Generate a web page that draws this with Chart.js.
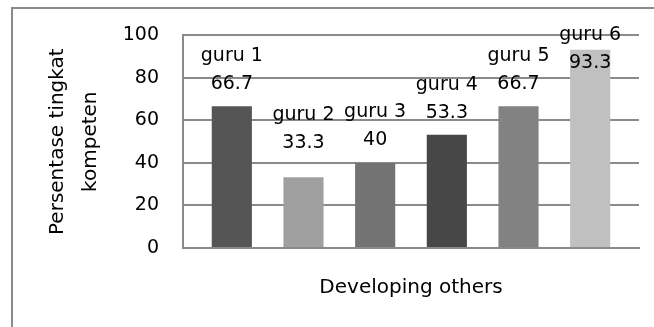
<!DOCTYPE html>
<html>
<head>
<meta charset="utf-8">
<script src="https://cdn.jsdelivr.net/npm/chart.js@4/dist/chart.umd.min.js"></script>
<style>
  html, body { margin: 0; padding: 0; background: #fff; overflow: hidden; }
</style>
</head>
<body>
<canvas id="myChart" width="654" height="327"></canvas>
<script>
// kategori dan nilai per guru
const kategori = ['Developing others'];
const namaGuru = ['guru 1', 'guru 2', 'guru 3', 'guru 4', 'guru 5', 'guru 6'];
const nilai = [66.7, 33.3, 40, 53.3, 66.7, 93.3];
const warnaBatang = ['#555555', '#a0a0a0', '#737373', '#474747', '#828282', '#c0c0c0'];
const tickY = [0, 20, 40, 60, 80, 100];

const fontName = '"DejaVu Sans", sans-serif';

// garis bingkai luar (kiri dan atas)
const bingkai = {
    id: 'bingkai',
    beforeDraw(chart) {
        const ctx = chart.ctx;
        ctx.save();
        ctx.strokeStyle = '#8a8a8a';
        ctx.lineWidth = 2;
        ctx.beginPath();
        ctx.moveTo(12, chart.height + 2);
        ctx.lineTo(12, 8);
        ctx.lineTo(chart.width + 2, 8);
        ctx.stroke();
        ctx.restore();
    }
};

// label "guru n" + nilai di atas tiap batang
const labelBatang = {
    id: 'labelBatang',
    afterDatasetsDraw(chart, args, opts) {
        const ctx = chart.ctx;
        ctx.save();
        ctx.font = '19px ' + fontName;
        ctx.fillStyle = '#000';
        ctx.textAlign = 'center';
        ctx.textBaseline = 'alphabetic';
        chart.data.datasets.forEach((ds, i) => {
            const bar = chart.getDatasetMeta(i).data[0];
            const yNilai = bar.y - opts.naik[i];
            ctx.fillText(String(ds.data[0]), bar.x, yNilai);
            ctx.fillText(ds.label, bar.x, yNilai - opts.jarakBaris);
        });
        ctx.restore();
    }
};

const datasets = namaGuru.map((nama, i) => ({
    label: nama,
    data: [nilai[i]],
    backgroundColor: warnaBatang[i],
    borderWidth: 0,
    categoryPercentage: 0.943,
    barPercentage: 0.56,
}));

new Chart(document.getElementById('myChart'), {
    type: 'bar',
    data: { labels: kategori, datasets: datasets },
    plugins: [bingkai, labelBatang],
    options: {
        responsive: false,
        animation: false,
        layout: { padding: { left: 12, top: 35, right: 15, bottom: 0 } },
        plugins: {
            legend: { display: false },
            tooltip: { enabled: false },
            labelBatang: { naik: [17, 29, 18, 17, 17, -18], jarakBaris: 28 },
        },
        scales: {
            x: {
                ticks: { display: false },
                grid: { display: false, drawTicks: false },
                border: { display: true, color: '#8a8a8a', width: 2 },
                title: {
                    display: true,
                    text: kategori[0],
                    color: '#000',
                    font: { family: fontName, size: 20, lineHeight: 1.2 },
                    padding: { top: 0, bottom: 27 },
                },
                afterFit(scale) { scale.height = 79; },
            },
            y: {
                min: 0,
                max: 100,
                afterBuildTicks(scale) { scale.ticks = tickY.map(v => ({ value: v })); },
                ticks: {
                    color: '#000',
                    padding: 24,
                    font: { family: fontName, size: 19 },
                },
                grid: { color: '#8a8a8a', lineWidth: 2, drawTicks: false },
                border: { display: true, color: '#8a8a8a', width: 2 },
                title: {
                    display: true,
                    text: ['Persentase tingkat', 'kompeten'],
                    color: '#000',
                    font: { family: fontName, size: 20, lineHeight: 1.65 },
                    padding: { top: 29, bottom: 0 },
                },
                afterFit(scale) { scale.width = 183 - 12; },
            },
        },
    },
});
</script>
</body>
</html>
